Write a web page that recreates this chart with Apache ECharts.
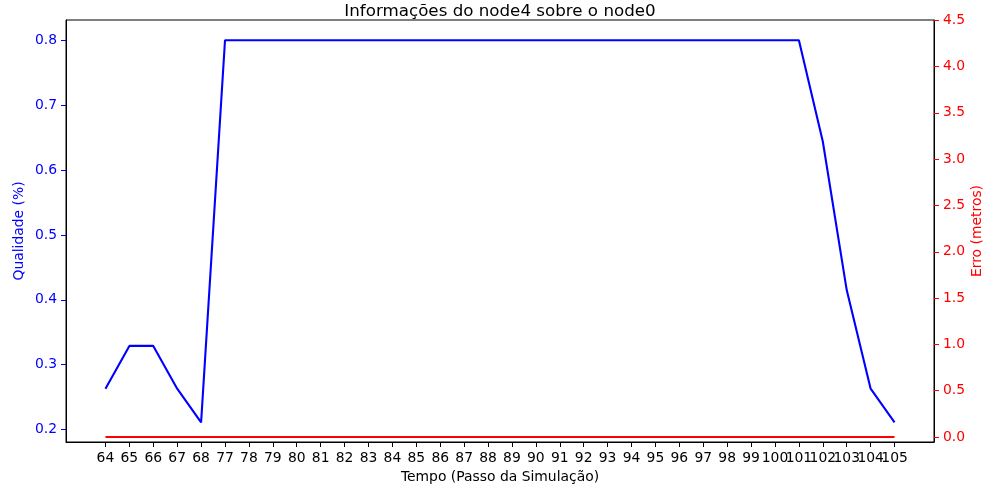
<!DOCTYPE html>
<html>
<head>
<meta charset="utf-8">
<script src="https://cdn.jsdelivr.net/npm/echarts@6/dist/echarts.min.js"></script>
<style>html,body{margin:0;padding:0;background:#fff;}#c{width:1000px;height:500px;}</style>
</head>
<body>
<div id="c"></div>
<script>
const categories = ['64','65','66','67','68','77','78','79','80','81','82','83','84','85','86','87','88','89','90','91','92','93','94','95','96','97','98','99','100','101','102','103','104','105'];
const qualidade = [0.263,0.329,0.329,0.263,0.211,0.8,0.8,0.8,0.8,0.8,0.8,0.8,0.8,0.8,0.8,0.8,0.8,0.8,0.8,0.8,0.8,0.8,0.8,0.8,0.8,0.8,0.8,0.8,0.8,0.8,0.644,0.415,0.263,0.211];
const erro = categories.map(() => 0);
const leftTicks = [0.2,0.3,0.4,0.5,0.6,0.7,0.8];
const rightTicks = [0,0.5,1,1.5,2,2.5,3,3.5,4,4.5];

const font = 'DejaVu Sans';
const idx = categories.map((c, i) => i);
const W = 1000, gl = 66, gr = 66;
const pad = 0.05 * (categories.length - 1);
const unit = (W - gl - gr) / ((categories.length - 1) + 2 * pad);
const inner = gl + pad * unit;

const chart = echarts.init(document.getElementById('c'), null, {renderer: 'canvas'});
chart.setOption({
  animation: false,
  backgroundColor: '#fff',
  title: {
    text: 'Informações do node4 sobre o node0',
    left: 'center', top: -2,
    textStyle: {fontFamily: font, fontSize: 16.7, fontWeight: 'normal', color: '#000'}
  },
  grid: [
    {left: gl, right: gr, top: 20, bottom: 58, show: true, borderColor: '#000', borderWidth: 1, backgroundColor: 'transparent'},
    {left: inner, right: inner, top: 20, bottom: 58, show: false}
  ],
  xAxis: [{
    type: 'value', gridIndex: 0, min: -pad, max: categories.length - 1 + pad,
    name: 'Tempo (Passo da Simulação)', nameLocation: 'middle', nameGap: 28, nameMoveOverlap: false,
    nameTextStyle: {fontFamily: font, fontSize: 13.9, color: '#000'},
    axisLine: {show: true, onZero: false, lineStyle: {color: '#000', width: 1}},
    axisTick: {show: true, length: 5, lineStyle: {color: '#000'}, customValues: idx},
    axisLabel: {show: false},
    splitLine: {show: false}
  }, {
    type: 'category', gridIndex: 1, data: categories, boundaryGap: false,
    axisLine: {show: false, onZero: false},
    axisTick: {show: false},
    axisLabel: {show: true, interval: 0, margin: 9, fontFamily: font, fontSize: 13.9, color: '#000'},
    splitLine: {show: false}
  }],
  yAxis: [{
    type: 'value', gridIndex: 0, min: 0.1809, max: 0.8313, position: 'left',
    name: 'Qualidade (%)', nameLocation: 'middle', nameGap: 40, nameMoveOverlap: false,
    nameTextStyle: {fontFamily: font, fontSize: 13.9, color: '#0000ff'},
    axisLine: {show: true, onZero: false, lineStyle: {color: '#000', width: 1}},
    axisTick: {show: true, length: 5, lineStyle: {color: '#0000ff'}, customValues: leftTicks},
    axisLabel: {show: true, margin: 9, fontFamily: font, fontSize: 13.9, color: '#0000ff', customValues: leftTicks,
      formatter: v => v.toFixed(1)},
    splitLine: {show: false}
  }, {
    type: 'value', gridIndex: 0, min: -0.054, max: 4.503, position: 'right',
    name: 'Erro (metros)', nameLocation: 'middle', nameGap: 36, nameMoveOverlap: false,
    nameTextStyle: {fontFamily: font, fontSize: 13.9, color: '#ff0000'},
    axisLine: {show: true, onZero: false, lineStyle: {color: '#000', width: 1}},
    axisTick: {show: true, length: 5, lineStyle: {color: '#ff0000'}, customValues: rightTicks},
    axisLabel: {show: true, margin: 9, fontFamily: font, fontSize: 13.9, color: '#ff0000', customValues: rightTicks,
      formatter: v => v.toFixed(1)},
    splitLine: {show: false}
  }, {
    type: 'value', gridIndex: 1, show: false
  }],
  series: [{
    type: 'line', xAxisIndex: 0, yAxisIndex: 0, showSymbol: false, symbol: 'none',
    data: qualidade.map((v, i) => [i, v]),
    lineStyle: {color: '#0000ff', width: 2.1}, itemStyle: {color: '#0000ff'}
  }, {
    type: 'line', xAxisIndex: 0, yAxisIndex: 1, showSymbol: false, symbol: 'none',
    data: erro.map((v, i) => [i, v]),
    lineStyle: {color: '#ff0000', width: 2.1}, itemStyle: {color: '#ff0000'}
  }]
});
</script>
</body>
</html>
